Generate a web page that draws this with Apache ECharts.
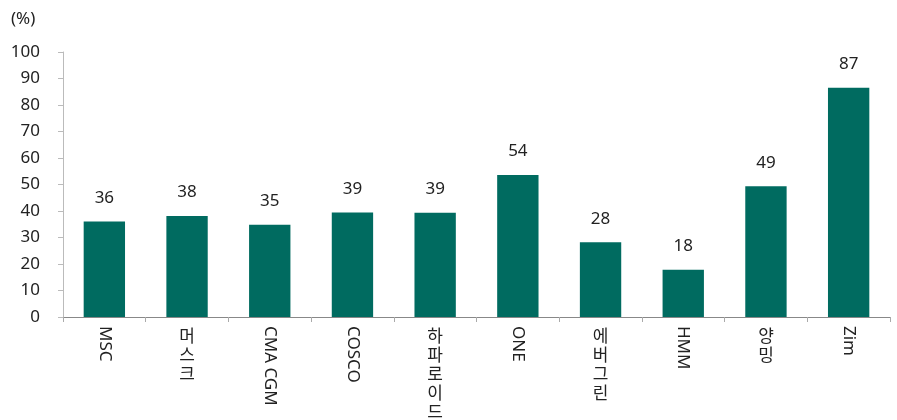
<!DOCTYPE html>
<html><head><meta charset="utf-8">
<script src="https://cdn.jsdelivr.net/npm/echarts@6/dist/echarts.min.js"></script>
<style>html,body{margin:0;padding:0;background:#fff}#c{width:897px;height:420px}</style>
</head><body><div id="c"></div>
<script>
const categories = ['MSC', '머스크', 'CMA CGM', 'COSCO', '하파로이드', 'ONE', '에버그린', 'HMM', '양밍', 'Zim'];
const values = [36.0, 38.1, 34.8, 39.4, 39.3, 53.6, 28.2, 17.8, 49.3, 86.5];
const yTicks = [0, 10, 20, 30, 40, 50, 60, 70, 80, 90, 100];

const FONT = '"Noto Sans", "Noto Sans CJK KR", sans-serif';
const isKo = s => /[\uac00-\ud7a3]/.test(s);
const chart = echarts.init(document.getElementById('c'), null, {renderer: 'canvas'});
chart.setOption({
  animation: false,
  backgroundColor: '#fff',
  textStyle: {fontFamily: FONT},
  title: {text: '(%)', left: 6, top: 6, textStyle: {fontSize: 17, fontWeight: 'normal', color: '#222', fontFamily: FONT}},
  grid: {left: 63, right: 7, top: 52, bottom: 103, containLabel: false, outerBoundsMode: 'none'},
  xAxis: [{
    type: 'category', data: categories,
    axisLine: {lineStyle: {color: '#888', width: 1}},
    axisTick: {show: true, alignWithLabel: false, length: 5, lineStyle: {color: '#aaa'}},
    axisLabel: {rotate: -90, fontSize: 17, color: '#222', margin: 9, fontFamily: FONT, interval: 0,
      formatter: v => isKo(v) ? '' : v}
  }, {
    type: 'category', data: categories, position: 'bottom', offset: 0,
    axisLine: {show: false}, axisTick: {show: false},
    axisLabel: {rotate: 0, fontSize: 17, color: '#222', margin: 11, fontFamily: FONT, interval: 0,
      lineHeight: 19, verticalAlign: 'top',
      formatter: v => isKo(v) ? v.split('').join('\n') : ''}
  }],
  yAxis: {
    type: 'value', min: yTicks[0], max: yTicks[yTicks.length - 1], interval: 10,
    axisLine: {show: true, lineStyle: {color: '#bbb'}},
    axisTick: {show: true, length: 5, lineStyle: {color: '#bbb'}},
    splitLine: {show: false},
    axisLabel: {fontSize: 17, color: '#222', margin: 23, fontFamily: FONT}
  },
  series: [{
    type: 'bar', data: values, barWidth: '50%', xAxisIndex: 0,
    itemStyle: {color: '#006B60'},
    label: {show: true, position: 'top', distance: 15, fontSize: 17, color: '#222', fontFamily: FONT,
      formatter: p => Math.round(p.value)}
  }]
});
</script></body></html>
